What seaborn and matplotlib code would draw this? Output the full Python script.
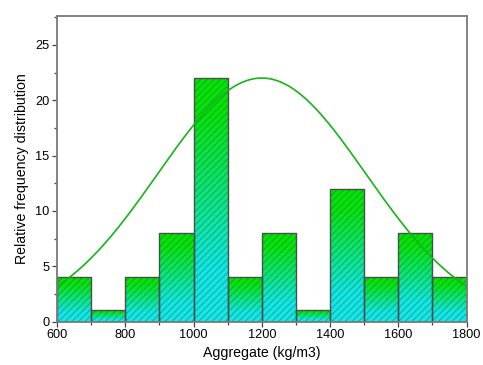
import numpy as np
import pandas as pd
import matplotlib
matplotlib.use("Agg")
import matplotlib.pyplot as plt
import seaborn as sns
from matplotlib.colors import LinearSegmentedColormap
from matplotlib.patches import Rectangle
from matplotlib.ticker import MultipleLocator

# Histogram bins (kg/m3) and relative frequencies
bin_edges = [600, 700, 800, 900, 1000, 1100, 1200, 1300, 1400, 1500, 1600, 1700, 1800]
freq = [4, 1, 4, 8, 22, 4, 8, 1, 12, 4, 8, 4]

# Normal fit curve parameters
fit_mean = 1200
fit_sd = 305
fit_peak = 22

x_label = "Aggregate (kg/m3)"
y_label = "Relative frequency distribution"

sns.set_theme(style="white")
plt.rcParams["font.family"] = ["Liberation Sans", "DejaVu Sans"]
plt.rcParams["hatch.linewidth"] = 0.8

fig = plt.figure(figsize=(4.83, 3.65), dpi=100)
ax = fig.add_axes([0.118, 0.119, 0.848, 0.837])

centers = [(a + b) / 2 for a, b in zip(bin_edges[:-1], bin_edges[1:])]
df = pd.DataFrame({"aggregate": centers, "freq": freq})
sns.histplot(data=df, x="aggregate", weights="freq", bins=bin_edges, ax=ax,
             stat="count", fill=True, color="#00e000", edgecolor="#4d4d4d",
             linewidth=1.0, alpha=1)

# Vertical cyan (bottom) to green (top) gradient inside each bar, plus hatching
cmap = LinearSegmentedColormap.from_list(
    "gc", [(0.0, "#18e8e8"), (0.22, "#14e6e4"), (0.85, "#06e40a"), (1.0, "#04e404")])
grad = np.linspace(0, 1, 256).reshape(-1, 1)
for p in list(ax.patches):
    x0, y0 = p.get_x(), p.get_y()
    w, h = p.get_width(), p.get_height()
    im = ax.imshow(grad, extent=(x0, x0 + w, y0, y0 + h), origin="lower",
                   aspect="auto", cmap=cmap, zorder=1.5, interpolation="bilinear")
    im.set_clip_path(p)
    hatch = Rectangle((x0, y0), w, h, facecolor="none",
                      edgecolor=(0.0, 0.35, 0.25, 0.38), linewidth=0,
                      hatch="/////", zorder=1.7)
    ax.add_patch(hatch)
    p.set_facecolor("none")
    p.set_zorder(1.9)

# Fitted normal curve
xs = np.linspace(bin_edges[0], bin_edges[-1], 400)
ys = fit_peak * np.exp(-((xs - fit_mean) ** 2) / (2 * fit_sd ** 2))
sns.lineplot(x=xs, y=ys, ax=ax, color="#17b317", linewidth=1.2, zorder=3)

ax.set_xlim(600, 1800)
ax.set_ylim(0, 27.6)
ax.xaxis.set_major_locator(MultipleLocator(200))
ax.xaxis.set_minor_locator(MultipleLocator(100))
ax.yaxis.set_major_locator(MultipleLocator(5))
ax.yaxis.set_minor_locator(MultipleLocator(2.5))

for s in ax.spines.values():
    s.set_visible(True)
    s.set_color("#7a7a7a")
    s.set_linewidth(1.3)
    s.set_zorder(4)

ax.tick_params(axis="both", which="major", direction="out", length=3.5, width=0.9,
               color="#444444", labelsize=9.2, labelcolor="black", pad=1.8,
               bottom=True, left=True, top=False, right=False)
ax.tick_params(axis="both", which="minor", direction="out", length=2.2, width=0.9,
               color="#444444", bottom=True, left=True, top=False, right=False)

ax.set_xlabel(x_label, fontsize=10.2, labelpad=3.5, color="black")
ax.set_ylabel(y_label, fontsize=10.2, labelpad=4.5, color="black")

fig.savefig("out.png", dpi=100)
